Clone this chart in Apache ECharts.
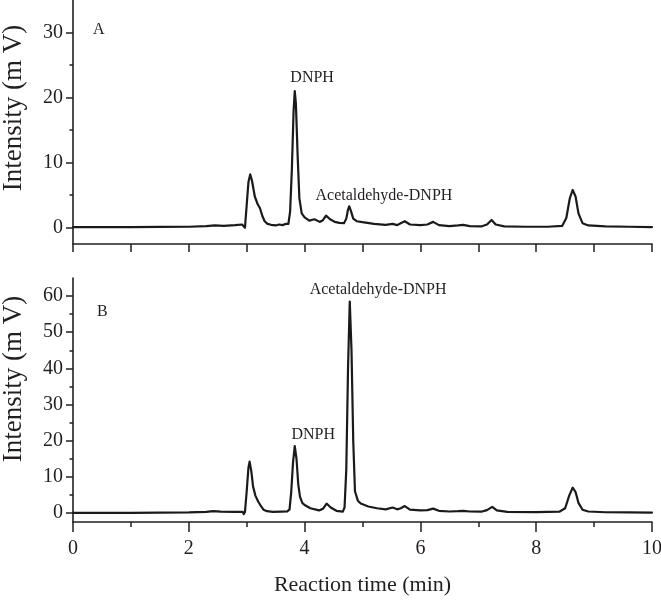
<!DOCTYPE html>
<html>
<head>
<meta charset="utf-8">
<script src="https://cdn.jsdelivr.net/npm/echarts@6/dist/echarts.min.js"></script>
<style>
html,body{margin:0;padding:0;background:#fff;}
#chart{width:661px;height:604px;}
</style>
</head>
<body>
<div id="chart"></div>
<script>
// ---- Data ----
const timesA = [0,0.5,1.0,1.5,2.0,2.3,2.45,2.6,2.8,2.92,2.95,2.97,3.0,3.03,3.06,3.09,3.14,3.19,3.23,3.27,3.31,3.36,3.42,3.5,3.56,3.62,3.68,3.72,3.75,3.78,3.81,3.83,3.85,3.88,3.91,3.95,4.0,4.08,4.17,4.26,4.31,4.37,4.44,4.52,4.6,4.68,4.72,4.75,4.77,4.8,4.84,4.9,5.0,5.2,5.4,5.52,5.6,5.66,5.73,5.82,6.0,6.12,6.22,6.32,6.5,6.65,6.74,6.85,7.05,7.15,7.23,7.3,7.45,7.8,8.2,8.45,8.52,8.58,8.63,8.68,8.73,8.8,8.9,9.2,9.6,10];
const valuesA = [0.1,0.1,0.1,0.12,0.15,0.25,0.35,0.3,0.4,0.5,0.8,0.0,3.5,7.0,8.2,7.3,4.8,3.6,3.0,1.8,1.0,0.6,0.45,0.35,0.5,0.4,0.6,0.6,2.5,9,18,21,19,11,4.5,2.2,1.6,1.1,1.3,0.9,1.1,1.85,1.3,0.9,0.75,0.7,1.4,2.8,3.3,2.6,1.4,1.0,0.85,0.6,0.45,0.6,0.4,0.7,1.0,0.5,0.4,0.5,0.9,0.4,0.25,0.35,0.45,0.25,0.2,0.5,1.2,0.5,0.2,0.15,0.15,0.3,1.5,4.5,5.8,4.8,2.2,0.7,0.35,0.2,0.15,0.1];

const timesB = [0,0.5,1.0,1.5,2.0,2.3,2.42,2.55,2.8,2.93,2.95,2.97,3.0,3.03,3.05,3.08,3.11,3.15,3.2,3.25,3.29,3.35,3.45,3.6,3.7,3.74,3.77,3.8,3.83,3.86,3.89,3.92,3.96,4.0,4.1,4.25,4.32,4.38,4.45,4.55,4.66,4.69,4.72,4.75,4.78,4.81,4.84,4.87,4.92,4.97,5.1,5.25,5.4,5.52,5.6,5.66,5.73,5.82,6.0,6.12,6.22,6.32,6.5,6.65,6.74,6.85,7.05,7.15,7.24,7.32,7.5,8.0,8.4,8.5,8.57,8.63,8.68,8.73,8.8,8.9,9.2,9.6,10];
const valuesB = [0.05,0.05,0.05,0.1,0.15,0.3,0.5,0.35,0.3,0.3,-0.3,0.3,6,12.5,14.2,11.5,7.3,4.8,3.1,1.8,0.9,0.5,0.3,0.35,0.4,1.0,6,14,18.5,15,8,4.5,2.8,2.2,1.3,0.7,1.2,2.6,1.5,0.6,0.35,1.5,12,40,58.5,45,20,6,3.4,2.6,1.8,1.3,1.0,1.5,1.0,1.3,1.9,0.9,0.7,0.8,1.2,0.6,0.4,0.5,0.6,0.4,0.35,0.8,1.7,0.7,0.3,0.25,0.35,1.3,4.8,7.0,5.8,2.8,0.9,0.4,0.2,0.15,0.1];

const xTickLabels = [0,2,4,6,8,10];
const yMajorA = [0,10,20,30];
const yMinorA = [5,15,25];
const yMajorB = [0,10,20,30,40,50,60];
const yMinorB = [5,15,25,35,45,55];

const panelLabels = ['A','B'];
const yTitle = 'Intensity (m V)';
const xTitle = 'Reaction time (min)';
// annotation texts with anchor positions in data space
const annotA = [{text:'DNPH', x:4.13, y:23.1},{text:'Acetaldehyde-DNPH', x:5.37, y:4.85}];
const annotB = [{text:'Acetaldehyde-DNPH', x:5.27, y:61.7},{text:'DNPH', x:4.15, y:21.6}];

// ---- Build ----
const FONT = '"Liberation Serif","Times New Roman",serif';
const INK = '#231f20';
const pairs = (xs, ys) => xs.map((x,i)=>[x, ys[i]]);

function mainY(grid, min, max, major){
  return {
    type:'value', gridIndex:grid, min:min, max:max, position:'left',
    axisLine:{show:true, onZero:false, lineStyle:{color:INK, width:1.6}},
    axisTick:{show:true, inside:false, length:7, customValues:major, lineStyle:{color:INK, width:1.5}},
    axisLabel:{show:true, customValues:major, fontFamily:FONT, fontSize:20, color:INK, margin:10},
    splitLine:{show:false},
    name: yTitle, nameLocation:'middle', nameGap:46, nameRotate:90,
    nameTextStyle:{fontFamily:FONT, fontSize:27, color:INK, padding: grid===0 ? [0,0,0,28] : [0,0,0,42]}
  };
}
function minorY(grid, min, max, minor){
  return {
    type:'value', gridIndex:grid, min:min, max:max, position:'left', offset:0,
    axisLine:{show:false},
    axisTick:{show:true, inside:false, length:3.5, customValues:minor, lineStyle:{color:INK, width:1.5}},
    axisLabel:{show:false},
    splitLine:{show:false}
  };
}
function annot(list){
  return {
    symbol:'circle', symbolSize:0, silent:true,
    label:{show:true, position:'inside', formatter:'{b}', fontFamily:FONT, fontSize:16, color:INK},
    data:list.map(a=>({name:a.text, coord:[a.x,a.y]}))
  };
}

const chart = echarts.init(document.getElementById('chart'), null, {renderer:'canvas'});
chart.setOption({
  animation:false,
  backgroundColor:'#ffffff',
  grid:[
    {left:73, right:9, top:0, height:244, containLabel:false, outerBoundsMode:'none'},
    {left:73, right:9, top:278, height:244, containLabel:false, outerBoundsMode:'none'}
  ],
  xAxis:[
    {type:'value', gridIndex:0, min:0, max:10, interval:1,
     axisLine:{show:true, onZero:false, lineStyle:{color:INK, width:1.6}},
     axisTick:{show:true, inside:false, length:8, lineStyle:{color:INK, width:1.5}},
     axisLabel:{show:false}, splitLine:{show:false}},
    {type:'value', gridIndex:1, min:0, max:10, interval:2,
     axisLine:{show:true, onZero:false, lineStyle:{color:INK, width:1.6}},
     axisTick:{show:true, inside:false, length:10, lineStyle:{color:INK, width:1.5}},
     minorTick:{show:true, splitNumber:2, length:5, lineStyle:{color:INK, width:1.5}},
     axisLabel:{show:true, fontFamily:FONT, fontSize:20, color:INK, margin:17,
       customValues:xTickLabels},
     splitLine:{show:false}, minorSplitLine:{show:false},
     name:xTitle, nameLocation:'middle', nameGap:52,
     nameTextStyle:{fontFamily:FONT, fontSize:22, color:INK}}
  ],
  yAxis:[
    mainY(0,-2.5,35,yMajorA),
    minorY(0,-2.5,35,yMinorA),
    mainY(1,-2.5,65,yMajorB),
    minorY(1,-2.5,65,yMinorB)
  ],
  graphic:[
    {type:'text', left:93, top:22, style:{text:panelLabels[0], font:'16px '+FONT, fill:INK}},
    {type:'text', left:97, top:304, style:{text:panelLabels[1], font:'16px '+FONT, fill:INK}}
  ],
  series:[
    {type:'line', xAxisIndex:0, yAxisIndex:0, data:pairs(timesA,valuesA),
     showSymbol:false, smooth:false,
     lineStyle:{color:'#1a1a1a', width:2.2, join:'round', cap:'round'}, markPoint:annot(annotA)},
    {type:'line', xAxisIndex:1, yAxisIndex:2, data:pairs(timesB,valuesB),
     showSymbol:false, smooth:false,
     lineStyle:{color:'#1a1a1a', width:2.2, join:'round', cap:'round'}, markPoint:annot(annotB)}
  ]
});
</script>
</body>
</html>
